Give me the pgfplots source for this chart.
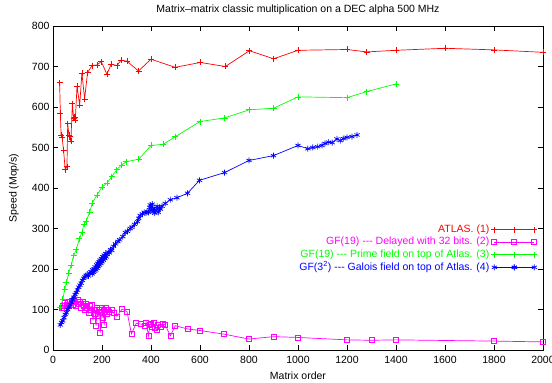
\documentclass[border=0pt]{standalone}
\usepackage{pgfplots}
\pgfplotsset{compat=1.18}
\usepackage{fontspec}
\setmainfont{Liberation Sans}
\definecolor{gpred}{RGB}{255,0,0}
\definecolor{gpgreen}{RGB}{0,255,0}
\definecolor{gpblue}{RGB}{0,0,255}
\definecolor{gpmag}{RGB}{255,0,255}
\begin{document}
\begin{tikzpicture}
\begin{axis}[
  scale only axis, width=490pt, height=324pt,
  xmin=0, xmax=2000, ymin=0, ymax=800,
  xtick={0,200,...,2000}, ytick={0,100,...,800},
  tick align=inside, major tick length=5pt,
  /pgf/number format/assume math mode=true,
  /pgf/number format/1000 sep={},
  font=\fontsize{10.5pt}{12pt}\selectfont,
  ticklabel style={font=\fontsize{10.5pt}{12pt}\selectfont},
  xticklabel style={yshift=-3pt},
  axis line style={line width=0.8pt},
  every tick/.style={black, line width=0.6pt},
  title={Matrix--matrix classic multiplication on a DEC alpha 500 MHz},
  title style={at={(axis description cs:0.5,1.031)}, anchor=center},
  xlabel={Matrix order},
  xlabel style={at={(axis description cs:0.5,-0.0802)}, anchor=center},
  ylabel={Speed (Mop/s)},
  ylabel style={at={(axis description cs:-0.08,0.5)}, anchor=center},
  legend style={draw=none, fill=none, at={(axis description cs:0.995,0.398)}, anchor=north east,
    font=\fontsize{10.5pt}{12pt}\selectfont, row sep=0pt,
    nodes={text height=8pt, text depth=2.6pt, inner ysep=1pt}},
  legend cell align=right,
  legend plot pos=right,
  legend image code/.code={\draw[#1] plot coordinates {(0pt,0pt) (20pt,0pt) (40pt,0pt)};
    \draw[#1, only marks, draw opacity=1] plot coordinates {(20pt,0pt)};},
]
\addplot[gpred, line width=0.7pt, mark=+, mark size=3pt] coordinates {
(27,660)(30,585)(33,531)(37,526)(43,494)(50,445)(57,453)(60,559)(65,530)(68,527)(73,515)(79,608)(84,573)(88,575)(91,568)(98,651)(109,605)(118,684)(129,620)(141,685)(159,702)(180,704)(197,712)(220,681)(238,706)(261,702)(278,716)(302,713)(349,689)(400,718)(499,698)(601,710)(703,700)(802,739)(900,719)(1000,740)(1200,742)(1280,736)(1400,740)(1600,745)(1800,741)(2000,735)
};
\addlegendentry{\textcolor{gpred}{ATLAS. (1)}}
\addplot[gpmag, line width=0.7pt, mark=square, mark size=2.5pt] coordinates {
(35,105)(40,110)(45,103)(50,116)(55,112)(60,120)(65,108)(70,118)(75,122)(80,112)(85,125)(90,118)(95,110)(100,124)(105,115)(110,120)(115,105)(120,118)(125,110)(130,100)(135,115)(140,105)(145,92)(150,110)(155,98)(160,112)(163,73)(168,100)(172,90)(176,60)(180,105)(185,85)(190,100)(193,43)(197,95)(200,105)(203,80)(206,100)(209,61)(212,95)(216,103)(220,90)(225,100)(230,95)(240,98)(247,92)(261,83)(282,101)(302,95)(320,40)(340,66)(360,64)(375,60)(380,68)(390,35)(395,62)(400,65)(405,58)(410,68)(415,55)(422,50)(430,62)(440,58)(450,64)(458,62)(479,35)(499,60)(549,52)(601,48)(699,39)(800,27)(900,33)(1000,31)(1200,25)(1300,24)(1400,25)(1800,22)(2000,20)
};
\addlegendentry{\textcolor{gpmag}{GF(19) -{}-{}- Delayed with 32 bits. (2)}}
\addplot[gpgreen, line width=0.7pt, mark=+, mark size=3pt] coordinates {
(30,105)(40,125)(48,150)(55,167)(64,190)(75,210)(84,233)(95,248)(108,275)(118,290)(126,310)(135,318)(150,340)(160,363)(180,383)(200,402)(220,412)(240,428)(260,445)(280,457)(300,465)(350,471)(400,505)(450,508)(500,527)(600,564)(700,573)(800,593)(900,597)(1000,625)(1200,623)(1280,638)(1400,657)
};
\addlegendentry{\textcolor{gpgreen}{GF(19) -{}-{}- Prime field on top of Atlas. (3)}}
\addplot[gpblue, line width=0.7pt, mark=asterisk, mark size=3pt] coordinates {
(30,62)(35,68)(40,72)(45,80)(50,88)(55,92)(60,100)(65,106)(70,112)(75,118)(80,124)(85,130)(90,137)(95,142)(100,148)(105,155)(110,160)(115,165)(120,172)(125,177)(130,180)(135,184)(140,186)(145,183)(150,190)(155,193)(160,188)(162,198)(165,192)(168,200)(170,195)(172,205)(175,198)(178,210)(180,202)(182,214)(185,206)(188,218)(190,210)(192,222)(195,214)(198,226)(200,218)(203,230)(206,222)(209,234)(212,226)(215,238)(218,230)(221,236)(225,242)(230,240)(235,248)(240,246)(247,256)(255,262)(265,268)(272,272)(285,280)(295,290)(304,293)(315,300)(322,303)(333,310)(345,317)(350,325)(356,332)(365,336)(372,340)(380,338)(384,342)(390,340)(395,352)(397,358)(400,345)(405,360)(408,342)(412,350)(415,338)(420,345)(425,355)(430,340)(435,350)(438,348)(445,355)(458,362)(479,371)(506,376)(549,387)(598,419)(700,438)(800,468)(900,480)(1000,505)(1040,497)(1060,500)(1080,502)(1098,505)(1110,510)(1125,513)(1140,512)(1159,521)(1173,517)(1185,522)(1200,525)(1220,527)(1241,531)
};
\addlegendentry{\textcolor{gpblue}{GF(3\textsuperscript{2}) -{}-{}- Galois field on top of Atlas. (4)}}
\end{axis}
\pgfresetboundingbox
\path (-53pt,-33pt) rectangle (499pt,350pt);
\end{tikzpicture}
\end{document}
